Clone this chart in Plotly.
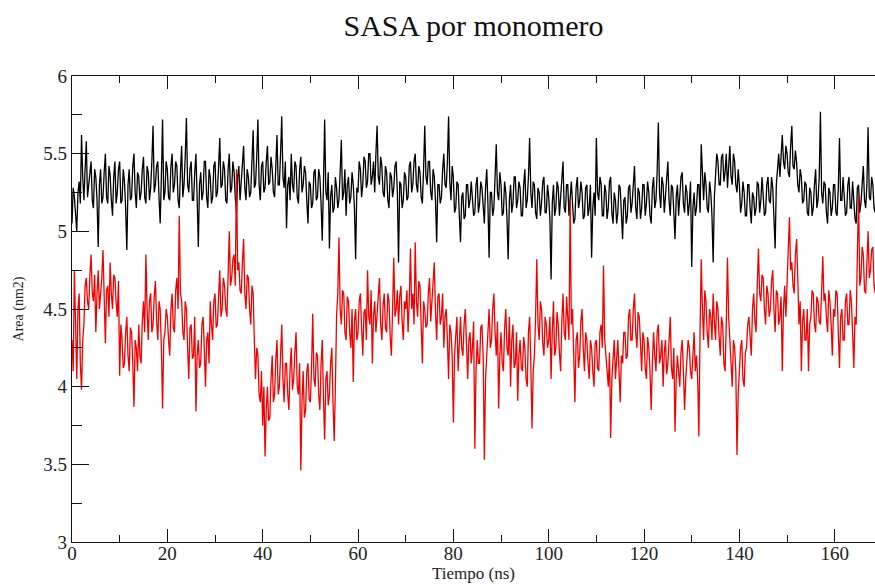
import numpy as np
import plotly.graph_objects as go

# Sampling times (ns), one sample every 0.25 ns
tiempo = np.arange(0, 170.01, 0.25)

# SASA per monomer, chain A (nm2) - 40 samples (10 ns) per row
area_a = [
    5.05, 5.28, 5.22, 5.1, 5.0, 5.25, 5.32, 5.18, 5.62, 5.35, 5.2, 5.4, 5.58, 5.22, 5.3, 5.42, 5.45, 5.2, 5.15, 5.4,
    5.35, 5.2, 4.9, 5.3, 5.4, 5.18, 5.22, 5.38, 5.5, 5.22, 5.18, 5.42, 5.36, 5.2, 5.1, 5.35, 5.45, 5.18, 5.25, 5.4,
    5.45, 5.18, 5.2, 5.4, 5.32, 5.15, 4.88, 5.3, 5.4, 5.2, 5.22, 5.42, 5.5, 5.25, 5.15, 5.38, 5.35, 5.2, 5.25, 5.4,
    5.48, 5.22, 5.18, 5.42, 5.38, 5.2, 5.28, 5.45, 5.68, 5.25, 5.3, 5.42, 5.45, 5.22, 5.05, 5.35, 5.72, 5.2, 5.25, 5.45,
    5.4, 5.22, 5.2, 5.42, 5.5, 5.25, 5.3, 5.45, 5.42, 5.2, 5.15, 5.38, 5.55, 5.22, 5.3, 5.48, 5.73, 5.3, 5.25, 5.4,
    5.45, 5.2, 5.2, 5.38, 5.5, 5.22, 4.9, 5.3, 5.38, 5.2, 5.25, 5.45, 5.45, 5.22, 5.15, 5.4, 5.35, 5.18, 5.22, 5.42,
    5.45, 5.22, 5.25, 5.42, 5.6, 5.28, 5.3, 5.45, 5.4, 5.2, 5.18, 5.4, 5.5, 5.25, 5.28, 5.45, 5.38, 5.22, 5.12, 5.35,
    5.42, 5.2, 5.3, 5.45, 5.55, 5.28, 5.2, 5.4, 5.35, 5.22, 5.25, 5.45, 5.65, 5.28, 5.3, 5.48, 5.72, 5.3, 5.2, 5.42,
    5.45, 5.25, 5.28, 5.45, 5.55, 5.3, 5.32, 5.48, 5.4, 5.25, 5.22, 5.42, 5.62, 5.3, 5.3, 5.5, 5.74, 5.35, 5.28, 5.45,
    5.02, 5.3, 5.35, 5.2, 5.5, 5.3, 5.25, 5.45, 5.42, 5.22, 5.18, 5.4, 5.48, 5.25, 5.3, 5.42, 5.38, 5.2, 5.05, 5.32,
    5.3, 5.15, 5.18, 5.38, 5.4, 5.2, 5.22, 5.4, 5.35, 5.18, 4.94, 5.3, 5.72, 5.25, 5.2, 5.38, 4.89, 5.22, 5.3, 5.12,
    5.15, 5.35, 5.28, 5.15, 5.2, 5.38, 5.59, 5.2, 5.25, 5.4, 5.1, 5.3, 5.35, 5.18, 5.22, 5.38, 5.3, 5.15, 4.82, 5.28,
    5.25, 5.45, 5.4, 5.22, 5.3, 5.48, 5.45, 5.28, 5.32, 5.5, 5.5, 5.3, 5.35, 5.45, 5.25, 5.5, 5.68, 5.35, 5.3, 5.48,
    5.42, 5.25, 5.22, 5.42, 5.38, 5.2, 5.15, 5.38, 5.35, 5.22, 5.28, 5.42, 5.45, 5.25, 4.8, 5.32, 5.3, 5.15, 5.2, 5.38,
    5.35, 5.2, 5.22, 5.42, 5.45, 5.25, 5.3, 5.45, 5.5, 5.3, 5.25, 5.42, 5.38, 5.22, 5.18, 5.4, 5.68, 5.35, 5.3, 5.45,
    5.45, 5.25, 5.2, 5.4, 5.35, 5.2, 4.93, 5.3, 5.3, 5.18, 5.22, 5.4, 5.5, 5.3, 5.28, 5.45, 5.74, 5.32, 5.2, 5.42,
    5.35, 5.12, 5.15, 5.32, 5.3, 5.1, 4.93, 5.22, 5.25, 5.08, 5.1, 5.3, 5.3, 5.15, 5.2, 5.32, 5.22, 5.1, 5.12, 5.3,
    5.35, 5.12, 5.18, 5.32, 5.28, 5.12, 5.05, 5.28, 5.4, 5.18, 4.83, 5.25, 5.25, 5.1, 5.15, 5.35, 5.56, 5.25, 5.2, 5.38,
    5.3, 5.1, 5.12, 5.32, 5.25, 5.08, 4.82, 5.2, 5.3, 5.12, 5.18, 5.35, 5.35, 5.15, 5.2, 5.32, 5.28, 5.1, 5.1, 5.3,
    5.4, 5.15, 5.2, 5.35, 5.6, 5.25, 5.15, 5.32, 5.3, 5.12, 5.08, 5.28, 5.25, 5.1, 5.18, 5.32, 5.35, 5.12, 5.12, 5.3,
    5.22, 5.08, 4.69, 5.18, 5.3, 5.1, 5.15, 5.32, 5.28, 5.1, 5.2, 5.35, 5.45, 5.15, 5.12, 5.3, 5.3, 5.1, 5.22, 5.32,
    5.18, 5.05, 5.08, 5.28, 5.35, 5.15, 5.2, 5.32, 5.25, 5.08, 5.1, 5.28, 5.3, 5.1, 5.15, 5.3, 4.83, 5.15, 5.25, 5.1,
    5.6, 5.25, 5.2, 5.35, 5.3, 5.1, 5.1, 5.3, 5.25, 5.08, 5.15, 5.32, 5.35, 5.12, 5.05, 5.25, 5.2, 5.05, 5.12, 5.3,
    5.28, 5.1, 4.95, 5.2, 5.22, 5.05, 5.1, 5.28, 5.3, 5.12, 5.18, 5.3, 5.42, 5.15, 5.08, 5.28, 5.25, 5.08, 5.15, 5.3,
    5.3, 5.1, 5.18, 5.32, 5.25, 5.1, 5.05, 5.28, 5.35, 5.15, 5.2, 5.38, 5.7, 5.25, 5.15, 5.35, 5.3, 5.12, 5.22, 5.38,
    5.45, 5.2, 5.1, 5.3, 5.28, 5.12, 4.95, 5.22, 5.3, 5.1, 5.2, 5.35, 5.38, 5.18, 5.12, 5.3, 5.25, 5.1, 5.18, 5.32,
    4.77, 5.15, 5.25, 5.1, 5.15, 5.3, 5.3, 5.12, 5.56, 5.3, 5.2, 5.38, 5.3, 5.15, 5.12, 5.32, 5.25, 5.1, 4.8, 5.22,
    5.35, 5.5, 5.45, 5.3, 5.3, 5.48, 5.5, 5.32, 5.38, 5.5, 5.28, 5.45, 5.55, 5.35, 5.3, 5.5, 5.45, 5.3, 5.25, 5.4,
    5.3, 5.12, 5.18, 5.32, 5.25, 5.1, 5.1, 5.3, 5.3, 5.15, 5.05, 5.25, 5.22, 5.1, 5.15, 5.32, 5.3, 5.12, 5.2, 5.35,
    5.25, 5.1, 5.12, 5.3, 5.35, 5.2, 5.18, 5.35, 5.28, 5.1, 4.89, 5.3, 5.4, 5.5, 5.35, 5.48, 5.62, 5.45, 5.4, 5.55,
    5.5, 5.38, 5.35, 5.55, 5.68, 5.42, 5.4, 5.52, 5.45, 5.3, 5.25, 5.4, 5.35, 5.18, 5.2, 5.32, 5.3, 5.12, 5.1, 5.28,
    5.25, 5.1, 5.15, 5.3, 5.4, 5.15, 5.2, 5.35, 5.77, 5.25, 5.18, 5.32, 5.3, 5.12, 5.05, 5.28, 5.25, 5.1, 5.15, 5.3,
    5.3, 5.12, 5.1, 5.28, 5.6, 5.2, 5.2, 5.35, 5.25, 5.1, 5.12, 5.3, 5.35, 5.15, 5.15, 5.32, 5.2, 5.08, 5.05, 5.28,
    5.3, 5.12, 5.18, 5.35, 5.42, 5.2, 5.15, 5.3, 5.67, 5.22, 5.2, 5.35, 5.3, 5.15, 5.12, 5.3, 5.25, 5.12, 5.2, 5.32,
    5.22,
]

# SASA per monomer, chain B (nm2) - 40 samples (10 ns) per row
area_b = [
    4.3, 4.1, 4.75, 4.25, 4.05, 4.5, 4.6, 4.15, 3.98, 4.3, 4.4, 4.65, 4.7, 4.55, 4.5, 4.72, 4.85, 4.6, 4.55, 4.72,
    4.35, 4.6, 4.75, 4.5, 4.6, 4.7, 4.88, 4.55, 4.28, 4.62, 4.65, 4.45, 4.8, 4.6, 4.5, 4.72, 4.7, 4.55, 4.45, 4.68,
    4.07, 4.4, 4.3, 4.12, 4.15, 4.35, 4.45, 4.2, 4.1, 4.38, 4.35, 4.15, 3.87, 4.3, 4.25, 4.1, 4.4, 4.2, 4.15, 4.42,
    4.55, 4.35, 4.85, 4.5, 4.3, 4.55, 4.6, 4.35, 4.4, 4.58, 4.68, 4.42, 4.3, 4.55, 4.5, 4.25, 3.86, 4.3, 4.35, 4.5,
    4.45, 4.3, 4.2, 4.5, 4.6, 4.38, 4.35, 4.62, 4.7, 4.5, 5.1, 4.6, 4.55, 4.35, 4.3, 4.55, 4.5, 4.25, 4.05, 4.38,
    4.4, 4.18, 4.2, 4.45, 3.84, 4.2, 4.3, 4.12, 4.15, 4.4, 4.45, 4.25, 4.0, 4.3, 4.35, 4.15, 4.55, 4.4, 4.3, 4.55,
    4.6, 4.38, 4.4, 4.58, 4.75, 4.45, 4.5, 4.7, 4.65, 4.5, 4.45, 4.72, 5.0, 4.65, 4.7, 4.82, 4.85, 4.65, 5.4, 4.75,
    4.8, 4.62, 4.6, 4.8, 4.95, 4.6, 4.5, 4.72, 4.7, 4.5, 4.4, 4.65, 4.6, 4.3, 4.05, 4.25, 4.2, 3.95, 3.9, 4.1,
    3.75, 4.0, 3.55, 3.85, 4.0, 3.78, 3.8, 4.05, 4.2, 3.9, 3.95, 4.18, 4.3, 3.95, 4.0, 4.2, 4.4, 4.05, 3.9, 4.15,
    4.15, 3.95, 3.85, 4.12, 4.25, 3.98, 4.05, 4.22, 4.35, 4.0, 3.95, 4.15, 3.46, 3.9, 4.1, 3.8, 3.85, 4.1, 4.15, 3.92,
    3.9, 4.12, 4.47, 4.05, 4.0, 4.22, 4.2, 3.95, 3.85, 4.15, 4.3, 3.92, 3.66, 4.05, 4.1, 3.88, 3.95, 4.15, 4.25, 3.9,
    3.65, 4.0, 4.45, 4.6, 4.96, 4.5, 4.4, 4.62, 4.6, 4.35, 4.3, 4.58, 4.55, 4.35, 4.25, 4.5, 4.03, 4.42, 4.5, 4.3,
    4.35, 4.55, 4.6, 4.38, 4.2, 4.48, 4.5, 4.3, 4.75, 4.45, 4.4, 4.62, 4.15, 4.45, 4.55, 4.35, 4.45, 4.6, 4.7, 4.4,
    4.3, 4.52, 4.6, 4.38, 4.35, 4.6, 4.55, 4.32, 4.2, 4.5, 4.83, 4.45, 4.5, 4.62, 4.4, 4.58, 4.65, 4.42, 4.3, 4.55,
    4.5, 4.62, 4.35, 4.55, 4.89, 4.5, 4.6, 4.4, 4.93, 4.55, 4.45, 4.68, 4.65, 4.4, 4.15, 4.55, 4.5, 4.38, 4.4, 4.6,
    4.7, 4.42, 4.55, 4.65, 4.8, 4.48, 4.3, 4.58, 4.6, 4.4, 4.45, 4.6, 4.25, 4.45, 4.5, 4.3, 4.05, 4.4, 4.35, 4.2,
    3.77, 4.2, 4.3, 4.45, 4.1, 4.32, 4.45, 4.25, 4.2, 4.4, 4.5, 4.28, 4.05, 4.3, 4.35, 4.15, 4.25, 4.42, 3.6, 4.1,
    4.3, 4.15, 4.15, 4.38, 4.4, 4.2, 3.53, 4.05, 4.2, 4.38, 4.5, 4.25, 4.3, 4.5, 4.6, 4.35, 4.2, 4.42, 3.86, 4.2,
    4.35, 4.15, 4.1, 4.38, 4.5, 4.25, 4.2, 4.45, 4.0, 4.3, 4.4, 4.12, 4.15, 4.35, 3.91, 4.2, 4.3, 4.12, 4.1, 4.32,
    4.25, 4.05, 4.0, 4.35, 4.45, 4.15, 3.73, 4.1, 4.2, 4.45, 4.82, 4.4, 4.3, 4.55, 4.5, 4.28, 4.2, 4.45, 4.4, 4.25,
    4.3, 4.45, 4.05, 4.35, 4.55, 4.2, 4.25, 4.48, 4.4, 4.22, 4.1, 4.42, 4.6, 4.35, 4.3, 4.58, 4.45, 4.3, 5.2, 4.4,
    4.5, 4.2, 3.9, 4.3, 4.35, 4.12, 4.2, 4.42, 4.5, 4.25, 4.1, 4.35, 4.3, 4.15, 4.05, 4.3, 4.25, 4.1, 4.0, 4.28,
    4.3, 4.12, 4.1, 4.35, 4.4, 4.25, 4.78, 4.3, 4.2, 4.1, 4.0, 4.22, 3.67, 4.05, 4.2, 4.3, 4.05, 4.22, 4.3, 4.1,
    3.9, 4.2, 4.15, 4.35, 4.35, 4.18, 4.2, 4.45, 4.5, 4.3, 4.3, 4.5, 4.6, 4.35, 4.25, 4.48, 4.45, 4.28, 4.1, 4.35,
    4.3, 4.12, 4.05, 4.32, 4.25, 4.1, 3.85, 4.15, 4.35, 4.2, 4.1, 4.35, 4.4, 4.15, 4.2, 4.3, 4.0, 4.22, 4.3, 4.08,
    4.15, 4.3, 4.45, 4.12, 4.05, 4.25, 3.71, 4.05, 4.2, 4.1, 4.0, 4.22, 4.3, 4.1, 3.85, 4.05, 4.15, 4.3, 4.25, 4.1,
    4.05, 4.25, 4.35, 4.1, 4.2, 4.05, 3.68, 4.35, 4.82, 4.5, 4.3, 4.62, 4.55, 4.35, 4.25, 4.5, 4.45, 4.3, 4.6, 4.42,
    4.3, 4.55, 4.5, 4.32, 4.2, 4.45, 4.4, 4.15, 4.1, 4.4, 4.83, 4.45, 4.3, 4.15, 4.0, 4.3, 4.25, 4.1, 3.56, 3.95,
    4.1, 4.25, 4.3, 4.05, 4.0, 4.22, 4.25, 4.4, 4.45, 4.28, 4.2, 4.5, 4.6, 4.42, 4.35, 4.65, 4.89, 4.6, 4.55, 4.72,
    4.7, 4.5, 4.4, 4.65, 4.6, 4.45, 4.5, 4.68, 4.75, 4.5, 4.35, 4.62, 4.6, 4.4, 4.45, 4.58, 4.1, 4.5, 4.65, 4.45,
    4.7, 4.85, 5.09, 4.75, 4.8, 4.65, 4.6, 4.85, 4.95, 4.7, 4.4, 4.55, 4.1, 4.42, 4.5, 4.3, 4.3, 4.5, 4.1, 4.4,
    4.45, 4.62, 4.6, 4.4, 4.35, 4.58, 4.55, 4.42, 4.4, 4.62, 4.84, 4.55, 4.6, 4.45, 4.35, 4.62, 4.55, 4.4, 4.2, 4.5,
    4.45, 4.62, 4.6, 4.35, 4.12, 4.45, 4.5, 4.3, 4.3, 4.55, 4.6, 4.4, 4.4, 4.62, 4.55, 4.35, 4.12, 4.45, 4.4, 4.85,
    5.23, 4.65, 4.7, 4.9, 4.85, 4.62, 4.6, 4.8, 5.0, 4.7, 4.75, 4.88, 4.9, 4.65, 4.6, 4.85, 4.8, 4.62, 4.65, 4.8,
    4.7,
]

x_ticks = [0, 20, 40, 60, 80, 100, 120, 140, 160]
y_ticks = [3, 3.5, 4, 4.5, 5, 5.5, 6]

SERIF = "Liberation Serif"

fig = go.Figure()
fig.add_trace(go.Scatter(x=tiempo, y=area_a, mode="lines",
                         line=dict(color="#000000", width=1.3), showlegend=False))
fig.add_trace(go.Scatter(x=tiempo, y=area_b, mode="lines",
                         line=dict(color="#f20000", width=1.3), showlegend=False))

fig.update_layout(
    width=875, height=585,
    margin=dict(l=72, r=0, t=76, b=43),
    paper_bgcolor="white", plot_bgcolor="white",
    title=dict(text="SASA por monomero", x=0.5, xref="paper", xanchor="center",
               y=1 - 25 / 585, yref="container", yanchor="middle",
               font=dict(family=SERIF, size=30, color="#111")),
    xaxis=dict(
        range=[0, 168.45], tickvals=x_ticks, ticktext=[str(v) for v in x_ticks],
        ticks="inside", ticklen=13, tickwidth=1.2, tickcolor="#111",
        minor=dict(dtick=10, tick0=0, ticks="inside", ticklen=7, tickwidth=1.2, tickcolor="#111"),
        showline=True, linecolor="#111", linewidth=1.3, mirror="ticks",
        showgrid=False, zeroline=False, ticklabelstandoff=-6,
        tickfont=dict(family=SERIF, size=19, color="#222"),
    ),
    yaxis=dict(
        range=[3, 6], tickvals=y_ticks, ticktext=[f"{v:g}" for v in y_ticks],
        ticks="inside", ticklen=17, tickwidth=1.2, tickcolor="#111",
        minor=dict(dtick=0.25, tick0=3, ticks="inside", ticklen=10, tickwidth=1.2, tickcolor="#111"),
        showline=True, linecolor="#111", linewidth=1.3, mirror=False,
        showgrid=False, zeroline=False,
        tickfont=dict(family=SERIF, size=19, color="#222"),
        title=dict(text="Area (nm2)", standoff=16, font=dict(family=SERIF, size=14, color="#222")),
    ),
    yaxis2=dict(
        overlaying="y", side="right", range=[3, 6], tickvals=y_ticks,
        ticks="inside", ticklen=9, tickwidth=1.2, tickcolor="#111",
        minor=dict(dtick=0.25, tick0=3, ticks="inside", ticklen=3, tickwidth=1.2, tickcolor="#111"),
        showticklabels=False, showline=False, showgrid=False, zeroline=False,
    ),
    annotations=[dict(
        text="Tiempo (ns)", xref="paper", yref="paper", x=0.5, y=0,
        xanchor="center", yanchor="bottom", yshift=-43, showarrow=False,
        font=dict(family=SERIF, size=17, color="#222"),
    )],
)

fig.write_html("out.html")
